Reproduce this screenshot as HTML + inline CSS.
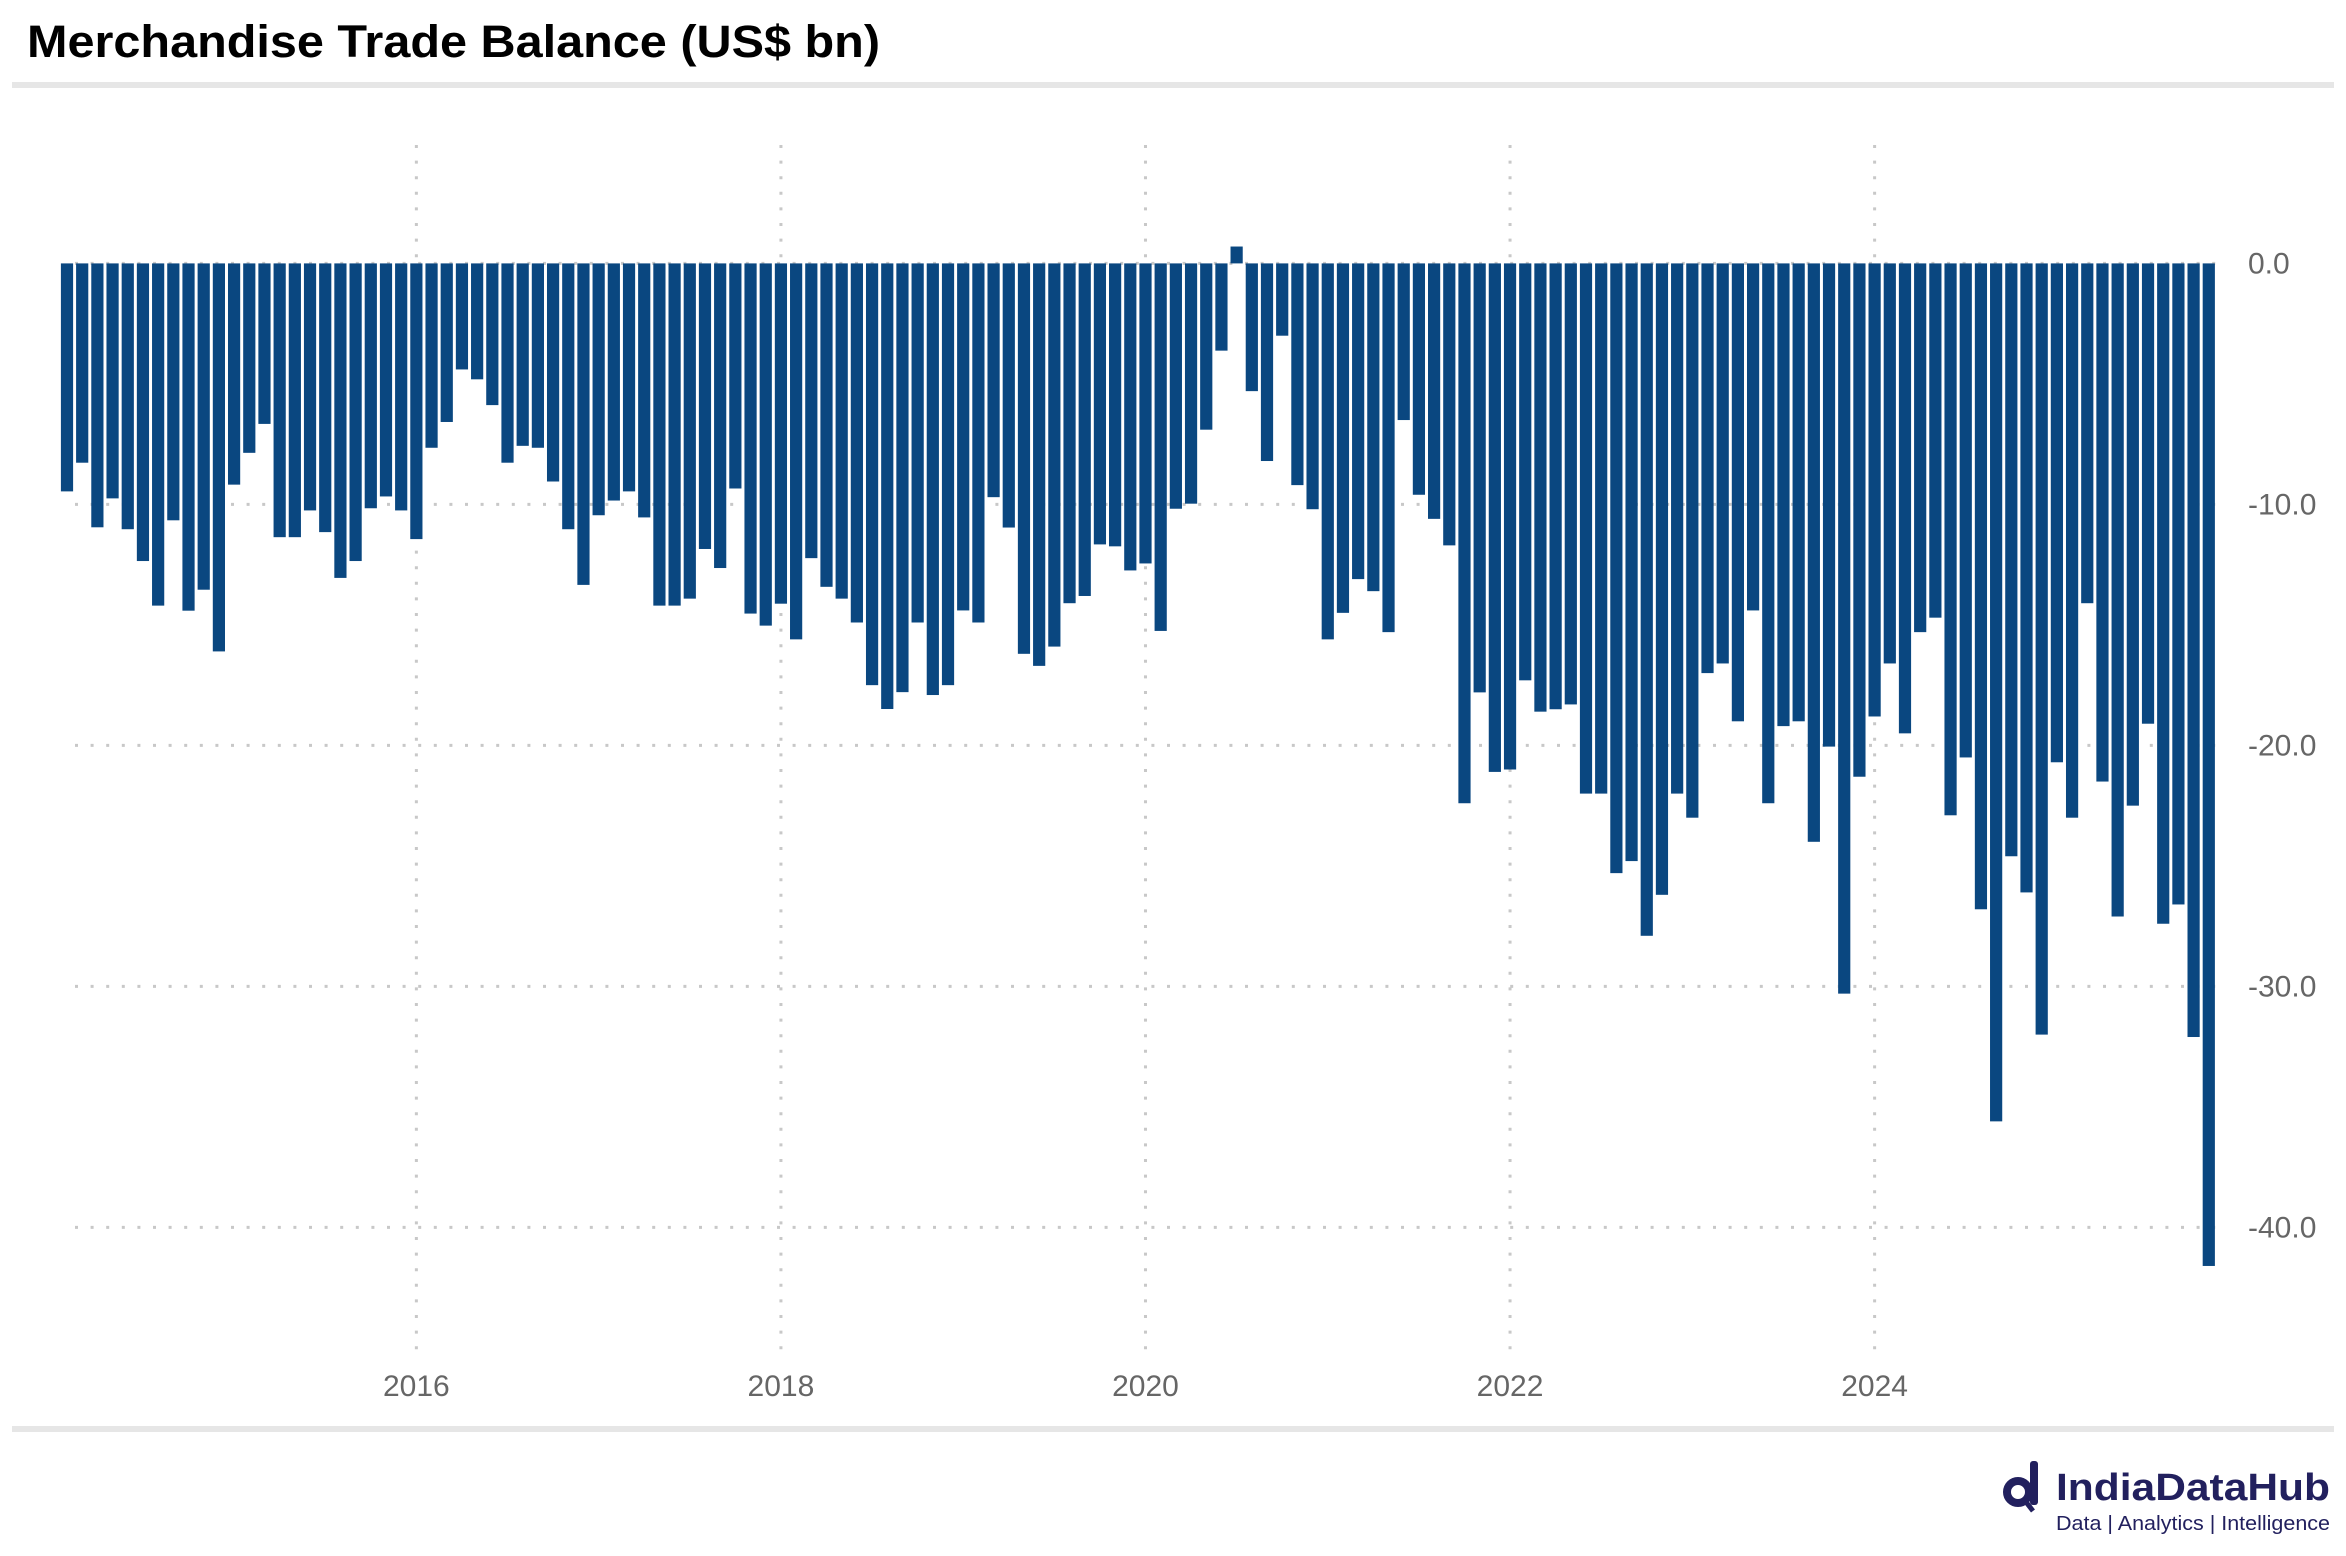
<!DOCTYPE html>
<html><head><meta charset="utf-8"><style>
html,body{margin:0;padding:0;background:#fff;}
body{width:2346px;height:1551px;overflow:hidden;font-family:"Liberation Sans",sans-serif;}
</style></head><body>
<svg id="chart" width="2346" height="1551" viewBox="0 0 2346 1551" xmlns="http://www.w3.org/2000/svg">
<text x="27" y="57" font-size="45" font-weight="bold" fill="#000" font-family="Liberation Sans, sans-serif" textLength="853" lengthAdjust="spacingAndGlyphs">Merchandise Trade Balance (US$ bn)</text>
<rect x="12" y="82" width="2322" height="6" fill="#e6e6e6"/>
<rect x="12" y="1426" width="2322" height="6" fill="#e6e6e6"/>
<g id="grid"></g>
<g id="bars"></g>
<g id="yaxis"></g>
<g id="xaxis"></g>
<g>
<circle cx="2018" cy="1492" r="11" fill="none" stroke="#22205e" stroke-width="8"/>
<rect x="2030" y="1461" width="8" height="44" rx="3" fill="#22205e"/>
<line x1="2026" y1="1502" x2="2033" y2="1511" stroke="#22205e" stroke-width="5"/>
<text x="2056" y="1500" font-size="38" font-weight="bold" fill="#22205e" font-family="Liberation Sans, sans-serif" textLength="274" lengthAdjust="spacingAndGlyphs">IndiaDataHub</text>
<text x="2056" y="1530" font-size="20" fill="#22205e" font-family="Liberation Sans, sans-serif" textLength="274" lengthAdjust="spacingAndGlyphs">Data | Analytics | Intelligence</text>
</g>
</svg>
<script>
// Monthly merchandise trade balance, Feb 2014 .. Nov 2025 (US$ bn)
const startYear = 2014;
const startMonth = 2;
const values = [
-9.46,-8.27,-10.95,-9.75,-11.03,-12.35,-14.2,-10.66,-14.41,-13.54,-16.1,-9.18,
-7.86,-6.66,-11.36,-11.36,-10.25,-11.15,-13.05,-12.35,-10.16,-9.67,-10.25,-11.44,
-7.65,-6.58,-4.40,-4.81,-5.88,-8.27,-7.57,-7.65,-9.05,-11.03,-13.34,-10.45,
-9.84,-9.46,-10.54,-14.2,-14.2,-13.91,-11.85,-12.64,-9.34,-14.53,-15.03,-14.12,
-15.6,-12.23,-13.42,-13.91,-14.9,-17.5,-18.49,-17.79,-14.9,-17.91,-17.5,-14.4,
-14.9,-9.7,-10.96,-16.2,-16.7,-15.9,-14.1,-13.8,-11.66,-11.74,-12.74,-12.45,
-15.25,-10.18,-9.97,-6.9,-3.62,0.7,-5.3,-8.2,-3.0,-9.2,-10.2,-15.6,
-14.5,-13.1,-13.6,-15.3,-6.5,-9.6,-10.6,-11.7,-22.4,-17.8,-21.1,-21.0,
-17.3,-18.6,-18.5,-18.3,-22.0,-22.0,-25.3,-24.8,-27.9,-26.2,-22.0,-23.0,
-17.0,-16.6,-19.0,-14.4,-22.4,-19.2,-19.0,-24.0,-20.05,-30.3,-21.3,-18.8,
-16.6,-19.5,-15.3,-14.7,-22.9,-20.5,-26.8,-35.6,-24.6,-26.1,-32.0,-20.7,
-23.0,-14.1,-21.5,-27.1,-22.5,-19.1,-27.4,-26.6,-32.1,-41.6
];
const yTicks = [0, -10, -20, -30, -40];
const yTickLabels = ["0.0", "-10.0", "-20.0", "-30.0", "-40.0"];
const xTickYears = [2016, 2018, 2020, 2022, 2024];
const xTickLabels = ["2016", "2018", "2020", "2022", "2024"];

const NS = "http://www.w3.org/2000/svg";
const x0 = 67, step = 15.19, barW = 12.2;
const yZero = 263.4, pxPerUnit = 24.1;
function xScale(monthIndex){ return x0 + monthIndex * step; }
function yScale(v){ return yZero - v * pxPerUnit; }
function monthIndexOf(year, month){ return (year - startYear) * 12 + (month - startMonth); }

const grid = document.getElementById('grid');
yTicks.forEach((t, i) => {
  const y = yScale(t);
  const ln = document.createElementNS(NS, 'line');
  ln.setAttribute('x1', 75); ln.setAttribute('x2', 2218);
  ln.setAttribute('y1', y); ln.setAttribute('y2', y);
  ln.setAttribute('stroke', '#c8c8c8'); ln.setAttribute('stroke-width', 3);
  ln.setAttribute('stroke-dasharray', '3 12.6');
  
  
  grid.appendChild(ln);
});
xTickYears.forEach((yr) => {
  const x = xScale(monthIndexOf(yr, 1));
  const ln = document.createElementNS(NS, 'line');
  ln.setAttribute('x1', x); ln.setAttribute('x2', x);
  ln.setAttribute('y1', 145); ln.setAttribute('y2', 1355);
  ln.setAttribute('stroke', '#c8c8c8'); ln.setAttribute('stroke-width', 3);
  ln.setAttribute('stroke-dasharray', '3 12.6');
  
  
  grid.appendChild(ln);
});

const bars = document.getElementById('bars');
values.forEach((v, i) => {
  const cx = xScale(i);
  const y1 = yScale(Math.max(v, 0)), y2 = yScale(Math.min(v, 0));
  const r = document.createElementNS(NS, 'rect');
  r.setAttribute('x', cx - barW / 2);
  r.setAttribute('width', barW);
  r.setAttribute('y', y1);
  r.setAttribute('height', Math.max(y2 - y1, 0.5));
  r.setAttribute('fill', '#0a4780');
  
  
  bars.appendChild(r);
});

const yaxis = document.getElementById('yaxis');
yTicks.forEach((t, i) => {
  const tx = document.createElementNS(NS, 'text');
  tx.setAttribute('x', 2248);
  tx.setAttribute('y', yScale(t) + 10);
  tx.setAttribute('font-size', 30);
  tx.setAttribute('fill', '#666');
  tx.setAttribute('font-family', 'Liberation Sans, sans-serif');
  tx.textContent = yTickLabels[i];
  
  
  yaxis.appendChild(tx);
});

const xaxis = document.getElementById('xaxis');
xTickYears.forEach((yr, i) => {
  const tx = document.createElementNS(NS, 'text');
  tx.setAttribute('x', xScale(monthIndexOf(yr, 1)));
  tx.setAttribute('y', 1396);
  tx.setAttribute('text-anchor', 'middle');
  tx.setAttribute('font-size', 30);
  tx.setAttribute('fill', '#666');
  tx.setAttribute('font-family', 'Liberation Sans, sans-serif');
  tx.textContent = xTickLabels[i];
  
  
  xaxis.appendChild(tx);
});
</script>
</body></html>
